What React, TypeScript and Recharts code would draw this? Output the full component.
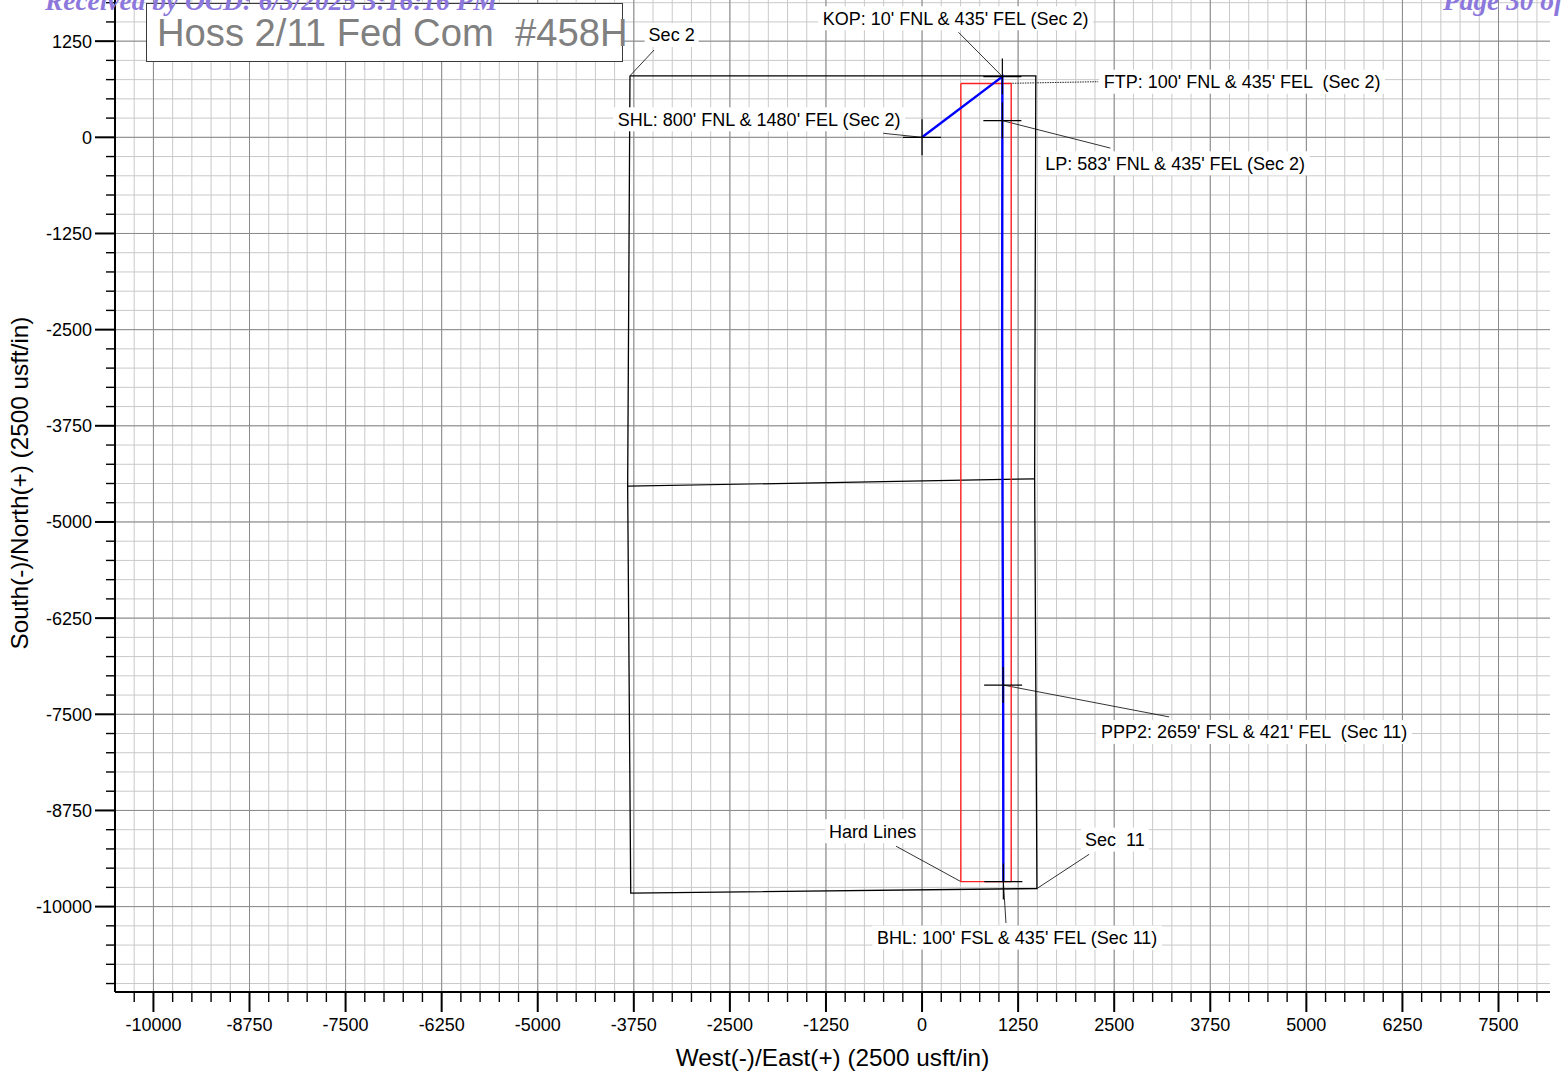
import React from 'react';
import { ComposedChart, Line, Scatter, XAxis, YAxis, CartesianGrid } from 'recharts';

const FONT = '"Liberation Sans", Arial, Helvetica, sans-serif';

// ---- axes ----
const X_DOMAIN: [number, number] = [-10500, 8170];
const Y_DOMAIN: [number, number] = [-11110, 1785];
const xMajorTicks = [-10000, -8750, -7500, -6250, -5000, -3750, -2500, -1250, 0, 1250, 2500, 3750, 5000, 6250, 7500];
const yMajorTicks = [1250, 0, -1250, -2500, -3750, -5000, -6250, -7500, -8750, -10000];
const MINOR_STEP = 250;
const MAJOR_STEP = 1250;
function steps(from: number, to: number, step: number): number[] {
  const out: number[] = [];
  for (let v = from; v <= to; v += step) out.push(v);
  return out;
}
const xMinorTicks = steps(-10250, 8000, MINOR_STEP);
const yMinorTicks = steps(-11000, 1750, MINOR_STEP);

// ---- plan-view geometry (usft) ----
const sectionOutline = [
  { x: -3800, y: 800 },
  { x: 1480, y: 800 },
  { x: 1465, y: -4440 },
  { x: 1495, y: -9765 },
  { x: -3790, y: -9825 },
  { x: -3830, y: -4535 },
  { x: -3800, y: 800 },
];
const sectionDivide = [
  { x: -3830, y: -4535 },
  { x: 1465, y: -4440 },
];
const hardLines = [
  { x: 505, y: 700 },
  { x: 1160, y: 700 },
  { x: 1160, y: -9675 },
  { x: 505, y: -9675 },
  { x: 505, y: 700 },
];
const wellPath = [
  { x: 0, y: 0 },
  { x: 1045, y: 790 },
  { x: 1045, y: 700 },
  { x: 1045, y: 217 },
  { x: 1042, y: -2700 },
  { x: 1048, y: -5000 },
  { x: 1055, y: -7120 },
  { x: 1058, y: -9675 },
];
const wellMarkers = [
  { x: 0, y: 0 },
  { x: 1045, y: 790 },
  { x: 1045, y: 217 },
  { x: 1055, y: -7120 },
  { x: 1058, y: -9675 },
];

// ---- annotation leaders and labels ----
const leaderSec2 = [{ x: -3486, y: 1135 }, { x: -3800, y: 800 }];
const leaderKop = [{ x: 474, y: 1365 }, { x: 1045, y: 790 }];
const leaderFtp = [{ x: 1045, y: 700 }, { x: 2291, y: 723 }];
const leaderShl = [{ x: -502, y: 52 }, { x: 0, y: 0 }];
const leaderLp = [{ x: 1045, y: 217 }, { x: 2450, y: -140 }];
const leaderPpp2 = [{ x: 1055, y: -7120 }, { x: 3215, y: -7534 }];
const leaderHard = [{ x: -338, y: -9215 }, { x: 505, y: -9675 }];
const leaderSec11 = [{ x: 2174, y: -9320 }, { x: 1495, y: -9765 }];
const leaderBhl = [{ x: 1058, y: -9675 }, { x: 1092, y: -10213 }];
const solidLeaders = [leaderSec2, leaderKop, leaderShl, leaderLp, leaderPpp2, leaderHard, leaderSec11, leaderBhl];

const labels = [
  { x: -3258, y: 1331, text: 'Sec 2' },
  { x: 437, y: 1547, text: "KOP: 10' FNL & 435' FEL (Sec 2)" },
  { x: 4165, y: 723, text: "FTP: 100' FNL & 435' FEL  (Sec 2)" },
  { x: -2120, y: 234, text: "SHL: 800' FNL & 1480' FEL (Sec 2)" },
  { x: 3293, y: -338, text: "LP: 583' FNL & 435' FEL (Sec 2)" },
  { x: 4321, y: -7730, text: "PPP2: 2659' FSL & 421' FEL  (Sec 11)" },
  { x: -643, y: -9020, text: 'Hard Lines' },
  { x: 2509, y: -9129, text: 'Sec  11' },
  { x: 1238, y: -10403, text: "BHL: 100' FSL & 435' FEL (Sec 11)" },
];

const chartTitle = 'Hoss 2/11 Fed Com  #458H';
const xAxisTitle = 'West(-)/East(+) (2500 usft/in)';
const yAxisTitle = 'South(-)/North(+) (2500 usft/in)';
const stampLeft = 'Received by OCD: 6/3/2025 3:16:16 PM';
const stampRight = 'Page 30 of';

let measureCtx: CanvasRenderingContext2D | null = null;
function measure(text: string, font: string): number {
  if (!measureCtx) {
    const c = document.createElement('canvas');
    measureCtx = c.getContext('2d');
  }
  if (!measureCtx) return text.length * 9;
  measureCtx.font = font;
  return measureCtx.measureText(text).width;
}

const isMajor = (v: number) => Math.abs(v % MAJOR_STEP) < 1e-6;

const XTick = (props: any) => {
  const { x, y, payload } = props;
  const v = payload.value;
  const major = isMajor(v);
  return (
    <g>
      <line x1={x} y1={y} x2={x} y2={y + (major ? 20 : 10)} stroke="#000" strokeWidth={major ? 2 : 1.4} />
      {major && (
        <text x={x} y={y + 39} textAnchor="middle" fontSize={18} fontFamily={FONT} fill="#000">
          {String(v)}
        </text>
      )}
    </g>
  );
};

const YTick = (props: any) => {
  const { x, y, payload } = props;
  const v = payload.value;
  const major = isMajor(v);
  return (
    <g>
      <line x1={x - (major ? 20 : 9)} y1={y} x2={x} y2={y} stroke="#000" strokeWidth={major ? 2 : 1.4} />
      {major && (
        <text x={x - 23} y={y + 6.4} textAnchor="end" fontSize={18} fontFamily={FONT} fill="#000">
          {String(v)}
        </text>
      )}
    </g>
  );
};

const CrossMarker = (props: any) => {
  const { cx, cy } = props;
  if (cx == null || cy == null) return <g />;
  return (
    <g>
      <line x1={cx - 19} y1={cy} x2={cx + 19} y2={cy} stroke="#000" strokeWidth={1.2} />
      <line x1={cx} y1={cy - 18} x2={cx} y2={cy + 18} stroke="#000" strokeWidth={1.2} />
    </g>
  );
};

const LabelShape = (props: any) => {
  const { cx, cy } = props;
  const text: string = (props.payload && props.payload.text) || props.text || '';
  if (cx == null || cy == null) return <g />;
  const w = measure(text, `18px ${FONT}`);
  return (
    <g>
      <rect x={cx - w / 2 - 4} y={cy - 12} width={w + 8} height={24} fill="#fff" />
      <text
        x={cx}
        y={cy + 6.4}
        textAnchor="middle"
        fontSize={18}
        fontFamily={FONT}
        fill="#000"
        style={{ whiteSpace: 'pre' }}
      >
        {text}
      </text>
    </g>
  );
};

const YTitle = (props: any) => {
  const vb = props.viewBox || { x: 15, y: 0, width: 100, height: 992 };
  const cx = vb.x + 13;
  const cy = vb.y + vb.height / 2 - 13;
  return (
    <text
      x={cx}
      y={cy}
      transform={`rotate(-90, ${cx}, ${cy})`}
      textAnchor="middle"
      fontSize={24.3}
      fontFamily={FONT}
      fill="#000"
    >
      {yAxisTitle}
    </text>
  );
};

export default function App() {
  return (
    <div style={{ position: 'absolute', left: 0, top: 0, width: 1562, height: 1075, background: '#fff' }}>
      <ComposedChart width={1562} height={1075} margin={{ top: 0, right: 12, bottom: 3, left: 15 }}>
        <CartesianGrid
          horizontalValues={yMinorTicks}
          verticalValues={xMinorTicks}
          stroke="#c9c9c9"
          strokeWidth={1}
        />
        <CartesianGrid
          horizontalValues={yMajorTicks}
          verticalValues={xMajorTicks}
          stroke="#8a8a8a"
          strokeWidth={1}
        />
        <XAxis
          type="number"
          dataKey="x"
          domain={X_DOMAIN}
          allowDataOverflow
          ticks={xMinorTicks}
          interval={0}
          tickSize={0}
          tickMargin={0}
          tickLine={false}
          tick={XTick}
          axisLine={{ stroke: '#000', strokeWidth: 2 }}
          height={80}
          label={{
            value: xAxisTitle,
            position: 'insideBottom',
            offset: 6,
            style: { fontSize: 24.3, fontFamily: FONT, fill: '#000' },
          }}
        />
        <YAxis
          type="number"
          dataKey="y"
          domain={Y_DOMAIN}
          allowDataOverflow
          ticks={yMinorTicks}
          interval={0}
          tickSize={0}
          tickMargin={0}
          tickLine={false}
          tick={YTick}
          axisLine={{ stroke: '#000', strokeWidth: 2 }}
          width={100}
          label={{ content: YTitle }}
        />

        <Line data={sectionOutline} dataKey="y" type="linear" stroke="#000" strokeWidth={1.3} dot={false} activeDot={false} isAnimationActive={false} />
        <Line data={sectionDivide} dataKey="y" type="linear" stroke="#000" strokeWidth={1.2} dot={false} activeDot={false} isAnimationActive={false} />
        {solidLeaders.map((d, i) => (
          <Line key={'ld' + i} data={d} dataKey="y" type="linear" stroke="#000" strokeWidth={0.8} dot={false} activeDot={false} isAnimationActive={false} />
        ))}
        <Line data={leaderFtp} dataKey="y" type="linear" stroke="#222" strokeWidth={1} strokeDasharray="1.5 1" dot={false} activeDot={false} isAnimationActive={false} />
        <Scatter data={wellMarkers} shape={CrossMarker} isAnimationActive={false} />
        <Line data={hardLines} dataKey="y" type="linear" stroke="#ff2020" strokeWidth={1.4} dot={false} activeDot={false} isAnimationActive={false} />
        <Line data={wellPath} dataKey="y" type="linear" stroke="#0000ff" strokeWidth={2.4} dot={false} activeDot={false} isAnimationActive={false} />
        <Scatter data={labels} shape={LabelShape} isAnimationActive={false} />
      </ComposedChart>

      <svg
        width={1562}
        height={1075}
        style={{ position: 'absolute', left: 0, top: 0, pointerEvents: 'none' }}
      >
        <rect x={146.5} y={3.5} width={476} height={58} fill="#fff" stroke="#3a3a3a" strokeWidth={1} />
        <text x={157} y={46} fontSize={38.2} fontFamily={FONT} fill="#808080" style={{ whiteSpace: 'pre' }}>
          {chartTitle}
        </text>
        <text
          x={45}
          y={10}
          fontSize={27.4}
          fontFamily='"Liberation Serif", "Times New Roman", serif'
          fontWeight="bold"
          fontStyle="italic"
          fill="#8c78dc"
        >
          {stampLeft}
        </text>
        <text
          x={1443}
          y={10}
          fontSize={27.4}
          fontFamily='"Liberation Serif", "Times New Roman", serif'
          fontWeight="bold"
          fontStyle="italic"
          fill="#8c78dc"
        >
          {stampRight}
        </text>
      </svg>
    </div>
  );
}
